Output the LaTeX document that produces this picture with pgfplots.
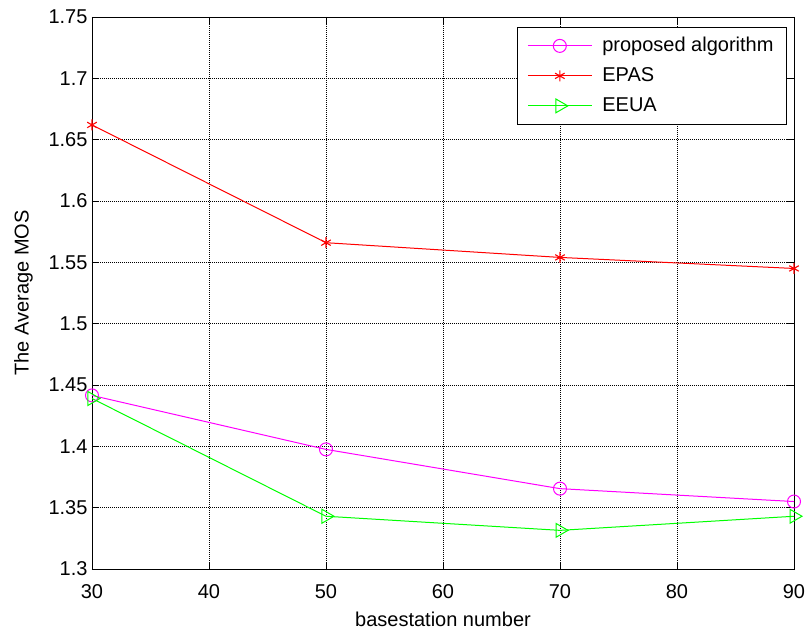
\documentclass[border=0pt]{standalone}
\usepackage{fontspec}
\setmainfont{Liberation Sans}
\usepackage{pgfplots}
\pgfplotsset{compat=1.18}
\definecolor{mmag}{rgb}{1,0,1}
\definecolor{mred}{rgb}{1,0,0}
\definecolor{mgreen}{rgb}{0,1,0}

\begin{document}
\begin{tikzpicture}
\begin{axis}[
  at={(0,0)}, anchor=south west,
  scale only axis,
  width=702bp, height=552bp,
  xmin=30, xmax=90, ymin=1.3, ymax=1.75,
  xtick={30,40,50,60,70,80,90},
  ytick={1.3,1.35,1.4,1.45,1.5,1.55,1.6,1.65,1.7,1.75},
  yticklabels={1.3,1.35,1.4,1.45,1.5,1.55,1.6,1.65,1.7,1.75},
  /pgf/number format/assume math mode=true,
  font=\fontsize{20bp}{24bp}\selectfont,
  ticklabel style={font=\fontsize{20bp}{24bp}\selectfont},
  xticklabel style={yshift=-12bp},
  yticklabel style={xshift=-1bp},
  xlabel={basestation number},
  ylabel={The Average MOS},
  xlabel style={yshift=-6bp},
  ylabel style={yshift=9bp},
  grid=major,
  grid style={black, line width=0.8bp, dash pattern=on 1bp off 1bp},
  axis line style={black, line width=0.9bp},
  tick style={black, line width=0.9bp},
  major tick length=7bp,
  legend style={at={(0.990,0.982)}, anchor=north east, draw=black, line width=0.9bp,
    font=\fontsize{20bp}{24bp}\selectfont, inner xsep=10bp, inner ysep=6bp,
    row sep=5bp, column sep=7bp,
    nodes={text height=15bp, text depth=4bp, inner sep=3bp},
    cells={anchor=west}},
  legend cell align=left,
  legend image code/.code={%
    \draw[mark repeat=2,mark phase=2] plot coordinates {(0bp,0bp) (32bp,0bp) (64bp,0bp)};},
]
\addplot[mmag, line width=1bp, mark=o, mark size=6.5bp, mark options={line width=1bp}]
  coordinates {(30,1.4415) (50,1.3975) (70,1.3655) (90,1.355)};
\addlegendentry{proposed algorithm}
\addplot[mred, line width=1bp, mark=asterisk, mark size=5.5bp, mark options={line width=1.1bp}]
  coordinates {(30,1.662) (50,1.566) (70,1.554) (90,1.545)};
\addlegendentry{EPAS}
\addplot[mgreen, line width=1bp, mark=triangle, mark size=8bp, mark options={rotate=-90, line width=1bp}]
  coordinates {(30,1.439) (50,1.343) (70,1.3315) (90,1.343)};
\addlegendentry{EEUA}
\end{axis}
\pgfresetboundingbox
\path (-92bp,-61bp) rectangle (718bp,569bp);
\end{tikzpicture}
\end{document}
